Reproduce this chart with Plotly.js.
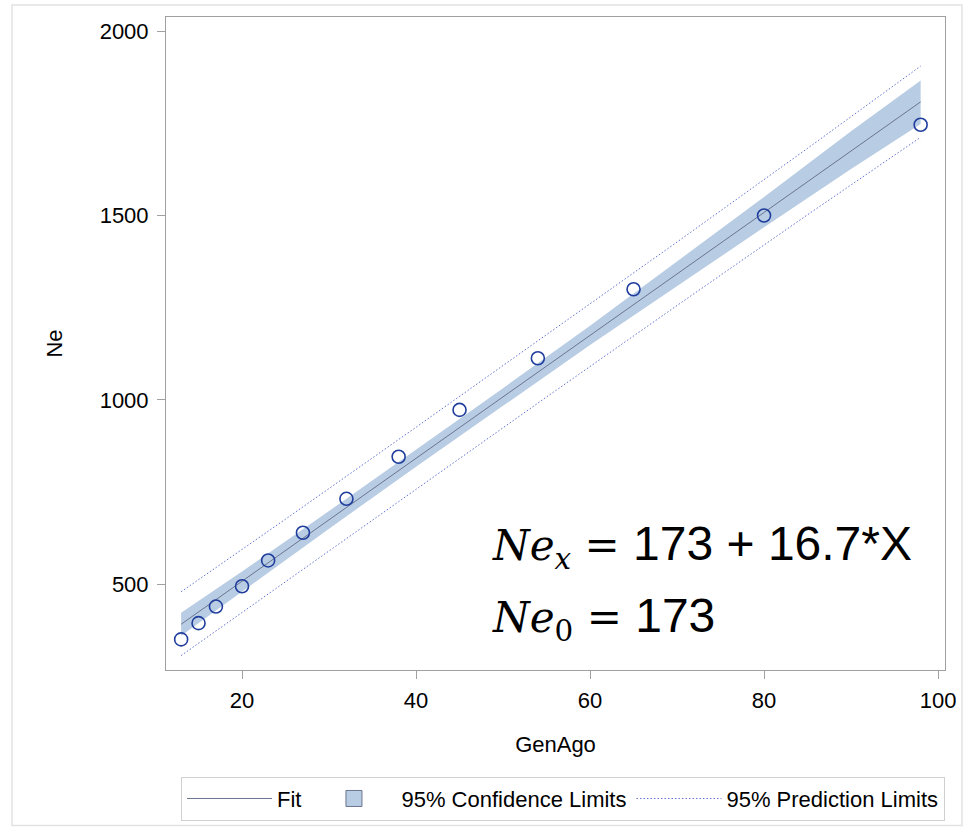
<!DOCTYPE html>
<html>
<head>
<meta charset="utf-8">
<script src="https://cdn.plot.ly/plotly-3.0.1.min.js"></script>
<style>
html,body{margin:0;padding:0;background:#fff;}
#chart{width:972px;height:833px;}
</style>
</head>
<body>
<div id="chart"></div>
<script>
// Observed data
const genAgo = [13, 15, 17, 20, 23, 27, 32, 38, 45, 54, 65, 80, 98];
const ne = [351, 395, 440, 495, 565, 640, 732, 846, 973, 1113, 1300, 1500, 1746];

// Fit line
const fitX = [13, 98];
const fitY = [392, 1808];

// 95% confidence limits
const bandX = [13, 20, 30, 40, 50, 60, 70, 80, 90, 98];
const clUpper = [423, 535, 699, 865, 1032, 1201, 1375, 1550, 1728, 1866];
const clLower = [361, 481, 651, 819, 984, 1149, 1309, 1468, 1626, 1748];

// 95% prediction limits
const predX = [13, 25, 40, 55, 70, 85, 98];
const plUpper = [480, 677, 926, 1176, 1428, 1682, 1905];
const plLower = [307, 507, 759, 1008, 1256, 1502, 1712];

const xTicks = [20, 40, 60, 80, 100];
const yTicks = [500, 1000, 1500, 2000];

const FONT = 'Liberation Sans, Arial, sans-serif';
const W = 972, H = 833;
const M = {l: 166, r: 27, t: 17, b: 161};
const pw = W - M.l - M.r, ph = H - M.t - M.b;
const px = v => (v - M.l) / pw;
const py = v => (H - M.b - v) / ph;

const PRED_COLOR = '#6273d0';

const traces = [
  {
    x: bandX.concat(bandX.slice().reverse()),
    y: clUpper.concat(clLower.slice().reverse()),
    type: 'scatter', mode: 'lines', fill: 'toself',
    fillcolor: '#b8cce4', line: {width: 0, color: '#b8cce4'},
    name: '95% Confidence Limits', showlegend: false, hoverinfo: 'skip'
  },
  {
    x: [null], y: [null], type: 'scatter', mode: 'markers',
    marker: {symbol: 'square', size: 17, color: '#b8cce4', line: {color: '#6b7590', width: 1}},
    name: '95% Confidence Limits', legendrank: 2
  },
  {
    x: predX, y: plUpper, type: 'scatter', mode: 'lines',
    line: {color: PRED_COLOR, width: 1, dash: '1.5px,2px'},
    name: '95% Prediction Limits', legendrank: 3
  },
  {
    x: predX, y: plLower, type: 'scatter', mode: 'lines',
    line: {color: PRED_COLOR, width: 1, dash: '1.5px,2px'},
    name: '95% Prediction Limits', showlegend: false
  },
  {
    x: fitX, y: fitY, type: 'scatter', mode: 'lines',
    line: {color: '#6b7590', width: 1},
    name: 'Fit', legendrank: 1
  },
  {
    x: genAgo, y: ne, type: 'scatter', mode: 'markers',
    marker: {symbol: 'circle-open', size: 13, color: '#1f3d9c', line: {width: 1.6, color: '#1f3d9c'}},
    name: 'Ne', showlegend: false
  }
];

const layout = {
  width: W, height: H,
  margin: M,
  paper_bgcolor: '#fff', plot_bgcolor: '#fff',
  font: {family: FONT, size: 22, color: '#000'},
  showlegend: true,
  xaxis: {
    range: [11.26, 100.8], tickvals: xTicks, ticks: 'outside', ticklen: 8,
    tickcolor: '#a0a0a0', showline: true, linecolor: '#a0a0a0', mirror: true,
    showgrid: false, zeroline: false, tickfont: {size: 22}, ticklabelstandoff: 3,
    title: {text: 'GenAgo', font: {size: 22}, standoff: 24}
  },
  yaxis: {
    range: [268, 2038], tickvals: yTicks, ticks: 'outside', ticklen: 8,
    tickcolor: '#a0a0a0', showline: true, linecolor: '#a0a0a0', mirror: true,
    showgrid: false, zeroline: false, tickfont: {size: 22}, ticklabelstandoff: 4,
    title: {text: 'Ne', font: {size: 22}, standoff: 30}
  },
  legend: {
    orientation: 'h', x: 1, xanchor: 'right', y: py(779), yanchor: 'top',
    bordercolor: '#d0d0d0', borderwidth: 1, font: {size: 22},
    itemwidth: 85, traceorder: 'normal'
  },
  shapes: [{
    type: 'rect', xref: 'paper', yref: 'paper',
    x0: px(12), x1: px(962), y0: py(828), y1: py(5),
    line: {color: '#e2e2e2', width: 1.5}, layer: 'below'
  }],
  annotations: [
    {
      xref: 'paper', yref: 'paper', x: px(490), y: py(548), xanchor: 'left', yanchor: 'middle',
      showarrow: false, font: {size: 42, family: 'DejaVu Serif'},
      text: '<i>Ne</i><sub><i>x</i></sub> = <span style="font-family:Liberation Sans;font-size:48px">173 + 16.7*X</span>'
    },
    {
      xref: 'paper', yref: 'paper', x: px(490), y: py(620), xanchor: 'left', yanchor: 'middle',
      showarrow: false, font: {size: 42, family: 'DejaVu Serif'},
      text: '<i>Ne</i><sub>0</sub> = <span style="font-family:Liberation Sans;font-size:48px">173</span>'
    }
  ]
};

Plotly.newPlot('chart', traces, layout, {displayModeBar: false, staticPlot: true});
</script>
</body>
</html>
